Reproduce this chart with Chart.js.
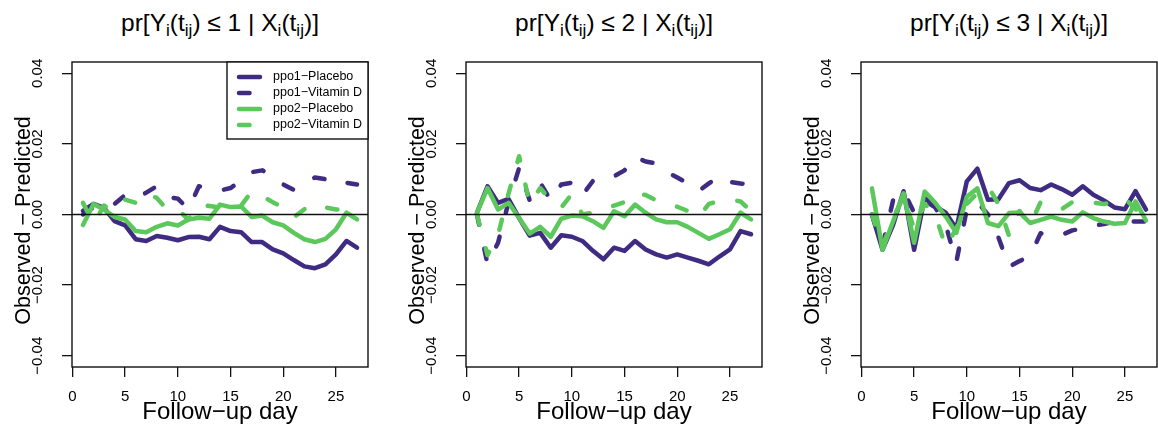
<!DOCTYPE html>
<html>
<head>
<meta charset="utf-8">
<script src="https://cdn.jsdelivr.net/npm/chart.js@4.4.1/dist/chart.umd.min.js"></script>
<style>
  body { margin: 0; background: #fff; width: 1158px; height: 433px; position: relative; overflow: hidden;
         font-family: "Liberation Sans", Arial, sans-serif; }
  canvas { position: absolute; top: 0; }
  .ttl { position: absolute; top: 11px; width: 296px; text-align: center; font-size: 24.5px;
         line-height: 24.5px; color: #000; white-space: nowrap; }
  .ttl sub { font-size: 70%; vertical-align: -0.3em; line-height: 0; }
</style>
</head>
<body>
<div class="ttl" style="left:72px">pr[Y<sub>i</sub>(t<sub>ij</sub>) ≤ 1 | X<sub>i</sub>(t<sub>ij</sub>)]</div>
<div class="ttl" style="left:466px">pr[Y<sub>i</sub>(t<sub>ij</sub>) ≤ 2 | X<sub>i</sub>(t<sub>ij</sub>)]</div>
<div class="ttl" style="left:861px">pr[Y<sub>i</sub>(t<sub>ij</sub>) ≤ 3 | X<sub>i</sub>(t<sub>ij</sub>)]</div>
<canvas id="c1" width="369" height="433" style="left:0px"></canvas>
<canvas id="c2" width="369" height="433" style="left:394px"></canvas>
<canvas id="c3" width="369" height="433" style="left:789px"></canvas>
<script>
// follow-up days and axis ticks
const days = [1, 2, 3, 4, 5, 6, 7, 8, 9, 10, 11, 12, 13, 14, 15, 16, 17, 18, 19, 20, 21, 22, 23, 24, 25, 26, 27];
const xTicks = [0, 5, 10, 15, 20, 25];
const yTicks = [-0.04, -0.02, 0, 0.02, 0.04];
const yTickLabels = ['−0.04', '−0.02', '0.00', '0.02', '0.04'];
const seriesNames = ['ppo1−Placebo', 'ppo1−Vitamin D', 'ppo2−Placebo', 'ppo2−Vitamin D'];

// panel 1: pr[Y <= 1]
const ppo1Placebo1 = [0.0010, 0.0030, 0.0019, -0.0019, -0.0031, -0.0070, -0.0075, -0.0061, -0.0066, -0.0073, -0.0064, -0.0063, -0.0070, -0.0035, -0.0047, -0.0050, -0.0078, -0.0078, -0.0099, -0.0110, -0.0129, -0.0147, -0.0152, -0.0141, -0.0113, -0.0075, -0.0094];
const ppo1VitD1 = [0.0000, 0.0020, 0.0020, 0.0030, 0.0055, 0.0045, 0.0062, 0.0080, 0.0050, 0.0045, 0.0015, 0.0080, 0.0076, 0.0068, 0.0075, 0.0095, 0.0120, 0.0125, 0.0110, 0.0085, 0.0070, 0.0087, 0.0105, 0.0100, 0.0085, 0.0090, 0.0085];
const ppo2Placebo1 = [-0.0030, 0.0030, 0.0014, -0.0007, -0.0014, -0.0047, -0.0050, -0.0035, -0.0025, -0.0031, -0.0014, -0.0009, -0.0012, 0.0028, 0.0021, 0.0023, -0.0007, -0.0003, -0.0022, -0.0031, -0.0052, -0.0070, -0.0078, -0.0069, -0.0042, 0.0005, -0.0014];
const ppo2VitD1 = [0.0033, -0.0025, 0.0025, 0.0012, 0.0042, 0.0033, 0.0060, 0.0047, 0.0014, 0.0015, -0.0015, 0.0027, 0.0024, 0.0020, 0.0013, 0.0025, 0.0065, 0.0052, 0.0035, 0.0020, -0.0008, 0.0015, 0.0030, 0.0020, 0.0014, 0.0015, 0.0000];

// panel 2: pr[Y <= 2]
const ppo1Placebo2 = [0.0005, 0.0080, 0.0033, 0.0044, -0.0010, -0.0060, -0.0052, -0.0094, -0.0059, -0.0063, -0.0075, -0.0103, -0.0127, -0.0094, -0.0103, -0.0075, -0.0099, -0.0113, -0.0122, -0.0113, -0.0122, -0.0131, -0.0141, -0.0119, -0.0099, -0.0047, -0.0056];
const ppo1VitD2 = [0.0000, -0.0140, -0.0080, 0.0035, 0.0132, 0.0040, 0.0090, 0.0040, 0.0085, 0.0090, 0.0055, 0.0095, 0.0108, 0.0108, 0.0125, 0.0163, 0.0150, 0.0145, 0.0120, 0.0105, 0.0088, 0.0066, 0.0088, 0.0108, 0.0092, 0.0088, 0.0085];
const ppo2Placebo2 = [0.0005, 0.0075, 0.0014, 0.0033, -0.0010, -0.0054, -0.0035, -0.0063, -0.0012, -0.0003, -0.0005, -0.0019, -0.0038, 0.0009, -0.0005, 0.0028, 0.0005, -0.0014, -0.0022, -0.0022, -0.0035, -0.0052, -0.0069, -0.0056, -0.0042, 0.0005, -0.0014];
const ppo2VitD2 = [0.0000, -0.0115, -0.0058, 0.0060, 0.0165, 0.0030, 0.0075, 0.0040, 0.0020, 0.0058, 0.0000, 0.0005, 0.0015, 0.0025, 0.0035, 0.0060, 0.0055, 0.0040, 0.0032, 0.0022, 0.0010, -0.0008, 0.0030, 0.0038, 0.0042, 0.0037, 0.0010];

// panel 3: pr[Y <= 3]
const ppo1Placebo3 = [0.0000, -0.0100, -0.0030, 0.0066, -0.0100, 0.0047, 0.0023, 0.0005, -0.0040, 0.0094, 0.0130, 0.0042, 0.0043, 0.0089, 0.0097, 0.0075, 0.0069, 0.0085, 0.0072, 0.0056, 0.0080, 0.0056, 0.0040, 0.0020, 0.0015, 0.0066, 0.0014];
const ppo1VitD3 = [0.0000, -0.0090, 0.0040, 0.0066, 0.0005, 0.0040, 0.0020, -0.0030, -0.0135, 0.0015, 0.0035, 0.0000, -0.0065, -0.0148, -0.0132, -0.0118, -0.0053, -0.0060, -0.0058, -0.0045, -0.0040, -0.0032, -0.0027, -0.0020, -0.0020, -0.0020, -0.0020];
const ppo2Placebo3 = [0.0074, -0.0100, -0.0020, 0.0060, -0.0080, 0.0065, 0.0033, -0.0006, -0.0052, 0.0050, 0.0074, -0.0024, -0.0033, 0.0004, 0.0006, -0.0024, -0.0015, -0.0006, -0.0015, -0.0020, 0.0006, -0.0010, -0.0020, -0.0026, -0.0024, 0.0037, -0.0017];
const ppo2VitD3 = [0.0000, -0.0090, -0.0010, 0.0050, -0.0040, 0.0030, 0.0000, -0.0092, -0.0040, 0.0030, 0.0060, 0.0080, 0.0030, -0.0060, 0.0010, -0.0030, 0.0035, 0.0030, 0.0015, 0.0035, 0.0037, 0.0033, 0.0030, 0.0035, 0.0045, 0.0015, -0.0010];

const purple = '#3f2b82';
const green = '#5cc85c';
const seriesColors = [purple, purple, green, green];
const seriesDashed = [false, true, false, true];
const dash = [10.5, 24.5];

Chart.defaults.font.family = '"Liberation Sans", Arial, sans-serif';
Chart.defaults.color = '#000';

// plot box, zero line and the rotated y tick labels (R style)
const frame = {
  id: 'frame',
  afterDatasetsDraw(chart) {
    const { ctx, chartArea: a, scales: { y } } = chart;
    const y0 = y.getPixelForValue(0);
    ctx.save();
    ctx.strokeStyle = '#111';
    ctx.lineWidth = 1.4;
    ctx.beginPath();
    ctx.moveTo(a.left, y0);
    ctx.lineTo(a.right, y0);
    ctx.stroke();
    ctx.strokeRect(a.left, a.top, a.right - a.left, a.bottom - a.top);
    ctx.font = '15px "Liberation Sans", Arial, sans-serif';
    ctx.fillStyle = '#000';
    ctx.textAlign = 'center';
    ctx.textBaseline = 'middle';
    yTicks.forEach((v, i) => {
      ctx.save();
      ctx.translate(a.left - 34, y.getPixelForValue(v));
      ctx.rotate(-Math.PI / 2);
      ctx.fillText(yTickLabels[i], 0, 0);
      ctx.restore();
    });
    ctx.restore();
  }
};

// legend box in the top right corner of the first panel
const legendBox = {
  id: 'legendBox',
  afterDraw(chart) {
    const { ctx, chartArea: a } = chart;
    const w = 141, h = 77;
    const x0 = a.right - w, y0 = a.top;
    ctx.save();
    ctx.fillStyle = '#fff';
    ctx.fillRect(x0, y0, w, h);
    ctx.strokeStyle = '#111';
    ctx.lineWidth = 1.4;
    ctx.strokeRect(x0, y0, w, h);
    ctx.font = '12.5px "Liberation Sans", Arial, sans-serif';
    ctx.textBaseline = 'middle';
    seriesNames.forEach((name, i) => {
      const yy = y0 + 15 + i * 16;
      ctx.strokeStyle = seriesColors[i];
      ctx.lineWidth = 4.5;
      ctx.lineCap = 'round';
      ctx.setLineDash(seriesDashed[i] ? dash : []);
      ctx.beginPath();
      ctx.moveTo(x0 + 12, yy);
      ctx.lineTo(x0 + 33, yy);
      ctx.stroke();
      ctx.setLineDash([]);
      ctx.fillStyle = '#000';
      ctx.fillText(name, x0 + 46, yy);
    });
    ctx.restore();
  }
};

function makePanel(id, series, withLegend) {
  const datasets = series.map((vals, i) => ({
    label: seriesNames[i],
    data: days.map((d, j) => ({ x: d, y: vals[j] })),
    borderColor: seriesColors[i],
    borderWidth: 4.5,
    borderDash: seriesDashed[i] ? dash : [],
    borderCapStyle: 'round',
    borderJoinStyle: 'round',
    pointRadius: 0,
    tension: 0,
    fill: false,
    order: 4 - i
  }));
  const plugins = [frame];
  if (withLegend) plugins.push(legendBox);
  return new Chart(document.getElementById(id), {
    type: 'line',
    data: { datasets },
    plugins,
    options: {
      responsive: false,
      animation: false,
      events: [],
      layout: { padding: { top: 62, right: 1, left: 0, bottom: 0 } },
      plugins: { legend: { display: false }, tooltip: { enabled: false } },
      scales: {
        x: {
          type: 'linear', min: -0.04, max: 28.04,
          afterBuildTicks: s => { s.ticks = xTicks.map(v => ({ value: v })); },
          afterFit: s => { s.height = 66; },
          ticks: { autoSkip: false, maxRotation: 0, padding: 11, font: { size: 15 }, color: '#000',
                   callback: (v, i) => String(xTicks[i]) },
          grid: { display: true, drawOnChartArea: false, drawTicks: true, tickLength: 10, color: '#111', lineWidth: 1.3 },
          border: { display: false },
          title: { display: true, text: 'Follow−up day', font: { size: 24 }, color: '#000',
                   padding: { top: 0, bottom: 6 } }
        },
        y: {
          type: 'linear', min: -0.0432, max: 0.0432,
          afterBuildTicks: s => { s.ticks = yTicks.map(v => ({ value: v })); },
          afterFit: s => { s.width = 72; },
          ticks: { display: false, autoSkip: false },
          grid: { display: true, drawOnChartArea: false, drawTicks: true, tickLength: 10, color: '#111', lineWidth: 1.3 },
          border: { display: false },
          title: { display: true, text: 'Observed − Predicted\u00a0\u00a0', font: { size: 21.5 }, color: '#000',
                   padding: { top: 11, bottom: 0 } }
        }
      }
    }
  });
}

makePanel('c1', [ppo1Placebo1, ppo1VitD1, ppo2Placebo1, ppo2VitD1], true);
makePanel('c2', [ppo1Placebo2, ppo1VitD2, ppo2Placebo2, ppo2VitD2], false);
makePanel('c3', [ppo1Placebo3, ppo1VitD3, ppo2Placebo3, ppo2VitD3], false);
</script>
</body>
</html>
